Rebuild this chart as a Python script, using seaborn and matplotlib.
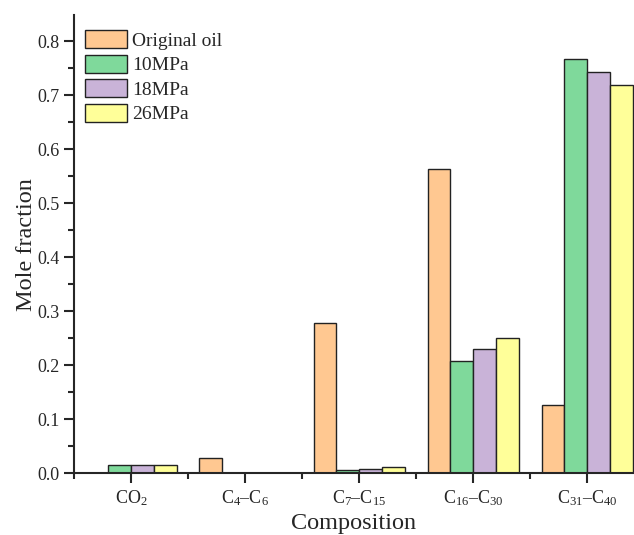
import matplotlib as mpl
import matplotlib.pyplot as plt
import seaborn as sns
import numpy as np
import pandas as pd
from matplotlib.ticker import MultipleLocator, FixedLocator

# data
components = [r'CO$_{\mathrm{2}}$', r'C$_{\mathrm{4}}$–C$_{\mathrm{6}}$',
              r'C$_{\mathrm{7}}$–C$_{\mathrm{15}}$', r'C$_{\mathrm{16}}$–C$_{\mathrm{30}}$',
              r'C$_{\mathrm{31}}$–C$_{\mathrm{40}}$']
series = ['Original oil', '10MPa', '18MPa', '26MPa']
original_oil = [0.0, 0.029, 0.278, 0.563, 0.127]
mpa10 = [0.016, 0.0, 0.007, 0.208, 0.767]
mpa18 = [0.016, 0.0, 0.009, 0.230, 0.743]
mpa26 = [0.016, 0.0, 0.012, 0.250, 0.720]
colors = ['#FFC891', '#7FD99B', '#C9B3D8', '#FFFF99']

rows = []
for name, vals in zip(series, [original_oil, mpa10, mpa18, mpa26]):
    for c, v in zip(components, vals):
        rows.append({'Composition': c, 'Series': name, 'value': v})
df = pd.DataFrame(rows)

sns.set_style('ticks')
plt.rcParams['font.family'] = ['Liberation Serif', 'DejaVu Serif']
plt.rcParams['mathtext.fontset'] = 'custom'
plt.rcParams['mathtext.rm'] = 'Liberation Serif'
plt.rcParams['mathtext.it'] = 'Liberation Serif:italic'

fig = plt.figure(figsize=(6.34, 5.35), dpi=100)
ax = fig.add_axes([0.1167, 0.115, 0.8833, 0.857])

sns.barplot(data=df, x='Composition', y='value', hue='Series',
            palette=colors, width=0.8, edgecolor='#222222', linewidth=1.0,
            saturation=1, ax=ax)

ax.set_xlim(-0.5, 4.41)
ax.set_ylim(0, 0.849)
ax.yaxis.set_major_locator(MultipleLocator(0.1))
ax.yaxis.set_minor_locator(MultipleLocator(0.05))
ax.xaxis.set_minor_locator(FixedLocator(np.arange(-0.5, 4.5, 1.0)))
ax.set_yticklabels([f'{v:.1f}' for v in ax.get_yticks()])

for s in ['top', 'right']:
    ax.spines[s].set_visible(False)
for s in ['left', 'bottom']:
    ax.spines[s].set_linewidth(1.5)
ax.tick_params(which='major', direction='out', length=7, width=1.5, labelsize=13)
ax.tick_params(which='minor', direction='out', length=4, width=1.5)

ax.set_xlabel('Composition', fontsize=17.5, labelpad=4)
ax.set_ylabel('Mole fraction', fontsize=17.5, labelpad=0)

ax.legend(loc='upper left', bbox_to_anchor=(0.005, 0.984), frameon=False,
          fontsize=14, handlelength=2.2, handleheight=1.05, labelspacing=0.25,
          handletextpad=0.25, borderaxespad=0)

fig.savefig('out.png', dpi=100)
